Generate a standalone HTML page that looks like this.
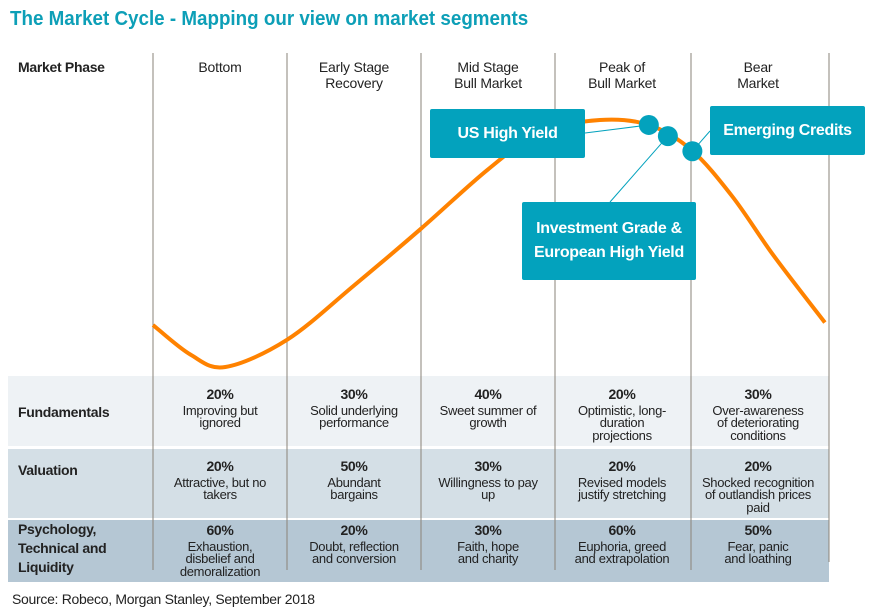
<!DOCTYPE html>
<html><head><meta charset="utf-8"><style>
body{margin:0;background:#fff;width:883px;height:614px;overflow:hidden;position:relative;font-family:"Liberation Sans Narrow","Liberation Sans",sans-serif;color:#222}
.abs{position:absolute}
.title{left:10px;top:8px;font-size:20px;font-weight:bold;color:#0d9fb7;transform:scaleX(0.94);transform-origin:left top;white-space:nowrap}
.row{left:8px;width:821px}
.hdr{font-size:14px;text-align:center;width:134px;line-height:16px;letter-spacing:-0.2px}
.cell{text-align:center;font-size:13px;line-height:12.5px;width:134px;letter-spacing:-0.3px}
.cell b{display:block;font-size:14px;margin-bottom:4px}
.rl{left:18px;font-size:14px;font-weight:bold;line-height:19px;letter-spacing:-0.3px}
.box{background:#03a2bd;color:#fff;font-weight:bold;font-size:16px;text-align:center;display:flex;align-items:center;justify-content:center;border-radius:2px;letter-spacing:-0.3px}
</style></head><body>
<div class="abs title">The Market Cycle - Mapping our view on market segments</div>
<div class="abs row" style="top:376px;height:70px;background:#eef2f5"></div>
<div class="abs row" style="top:449px;height:69px;background:#d4dfe6"></div>
<div class="abs row" style="top:520px;height:62px;background:#b5c7d4"></div>
<svg class="abs" style="left:0;top:0" width="883" height="614" id="chart"></svg>
<div class="abs rl" style="top:58px">Market Phase</div>
<div class="abs rl" style="top:403px">Fundamentals</div>
<div class="abs rl" style="top:461px">Valuation</div>
<div class="abs rl" style="top:520px">Psychology,<br>Technical and<br>Liquidity</div>
<div id="cells"></div>
<div class="abs box" style="left:430px;top:109px;width:155px;height:49px">US High Yield</div>
<div class="abs box" style="left:710px;top:106px;width:155px;height:49px">Emerging Credits</div>
<div class="abs box" style="left:522px;top:202px;width:174px;height:78px;line-height:24px">Investment Grade &amp;<br>European High Yield</div>
<div class="abs" style="left:12px;top:591px;font-size:14px;letter-spacing:-0.3px">Source: Robeco, Morgan Stanley, September 2018</div>
<script>
const phases=["Bottom","Early Stage<br>Recovery","Mid Stage<br>Bull Market","Peak of<br>Bull Market","Bear<br>Market"];
const fundPct=["20%","30%","40%","20%","30%"];
const fundTxt=["Improving but<br>ignored","Solid underlying<br>performance","Sweet summer of<br>growth","Optimistic, long-<br>duration<br>projections","Over-awareness<br>of deteriorating<br>conditions"];
const valPct=["20%","50%","30%","20%","20%"];
const valTxt=["Attractive, but no<br>takers","Abundant<br>bargains","Willingness to pay<br>up","Revised models<br>justify stretching","Shocked recognition<br>of outlandish prices<br>paid"];
const psyPct=["60%","20%","30%","60%","50%"];
const psyTxt=["Exhaustion,<br>disbelief and<br>demoralization","Doubt, reflection<br>and conversion","Faith, hope<br>and charity","Euphoria, greed<br>and extrapolation","Fear, panic<br>and loathing"];
// curve: phase position (0..5) and level (0 low .. 1 high)
const curveX=[0,0.28,0.54,1,1.5,2,2.5,2.89,3.33,3.69,4,4.3,4.6,4.97];
const curveY=[0.17,0.05,0,0.11,0.33,0.56,0.80,0.95,1,0.98,0.88,0.69,0.45,0.18];
const markerX=[3.69,3.83,4.01];
const markerName=["marker-us-high-yield","marker-ig-european-hy","marker-emerging-credits"];
const colX=[153,287,421,555,691,829];
const px=p=>{const i=Math.min(4,Math.floor(p));return colX[i]+(p-i)*(colX[i+1]-colX[i]);};
const py=v=>367-v*(367-120);
const svg=document.getElementById('chart');const NS="http://www.w3.org/2000/svg";
colX.forEach((x,i)=>{const l=document.createElementNS(NS,'line');


l.setAttribute('x1',x);l.setAttribute('x2',x);l.setAttribute('y1',53);l.setAttribute('y2',i==5?562:570);l.setAttribute('stroke','#8a8378');l.setAttribute('stroke-width','1');svg.appendChild(l);});
const pts=curveX.map((c,i)=>[px(c),py(curveY[i])]);
let d=`M${pts[0][0]},${pts[0][1]}`;
for(let i=0;i<pts.length-1;i++){const p0=pts[Math.max(0,i-1)],p1=pts[i],p2=pts[i+1],p3=pts[Math.min(pts.length-1,i+2)];
d+=` C${p1[0]+(p2[0]-p0[0])/6},${p1[1]+(p2[1]-p0[1])/6} ${p2[0]-(p3[0]-p1[0])/6},${p2[1]-(p3[1]-p1[1])/6} ${p2[0]},${p2[1]}`;}
const path=document.createElementNS(NS,'path');


path.setAttribute('d',d);path.setAttribute('fill','none');path.setAttribute('stroke','#ff8200');path.setAttribute('stroke-width','4');svg.appendChild(path);
function curveAt(p){for(let i=0;i<curveX.length-1;i++){if(p>=curveX[i]&&p<=curveX[i+1]){const t=(p-curveX[i])/(curveX[i+1]-curveX[i]);return curveY[i]+t*(curveY[i+1]-curveY[i]);}}return 0;}
const leaders=[[585,133],[610,202],[710,131]];
markerX.forEach((m,i)=>{const x=px(m),y=py(curveAt(m));
const l=document.createElementNS(NS,'line');


l.setAttribute('x1',x);l.setAttribute('y1',y);l.setAttribute('x2',leaders[i][0]);l.setAttribute('y2',leaders[i][1]);l.setAttribute('stroke','#03a2bd');l.setAttribute('stroke-width','1');svg.appendChild(l);
const c=document.createElementNS(NS,'circle');


c.setAttribute('cx',x);c.setAttribute('cy',y);c.setAttribute('r',10);c.setAttribute('fill','#03a2bd');svg.appendChild(c);});
const host=document.getElementById('cells');
function add(html,cls,left,top,name){const e=document.createElement('div');e.className='abs '+cls;e.style.left=left+'px';e.style.top=top+'px';e.innerHTML=html;


host.appendChild(e);}
for(let i=0;i<5;i++){const l=colX[i];
add(phases[i],'hdr',l,59,'phase-header');
add('<b>'+fundPct[i]+'</b>'+fundTxt[i],'cell',l,388,'fundamentals-cell');
add('<b>'+valPct[i]+'</b>'+valTxt[i],'cell',l,460,'valuation-cell');
add('<b>'+psyPct[i]+'</b>'+psyTxt[i],'cell',l,524,'psychology-cell');}
</script>
</body></html>
